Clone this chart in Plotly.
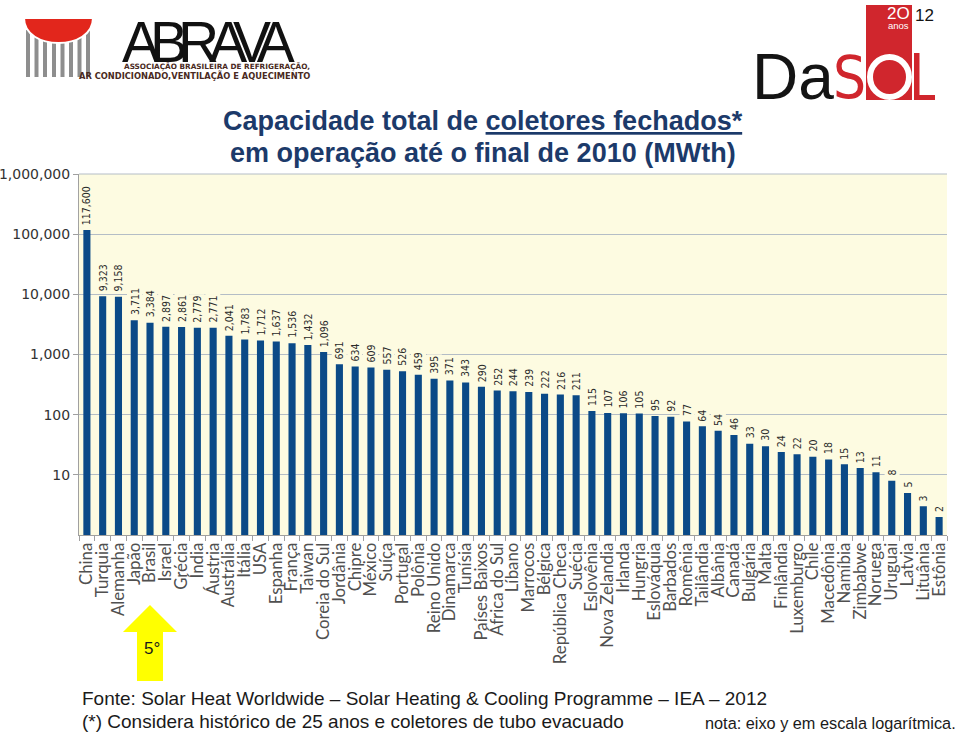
import numpy as np
import plotly.graph_objects as go

# ---------------- data ----------------
countries = [
    "China", "Turquia", "Alemanha", "Japão", "Brasil", "Israel", "Grécia", "Índia",
    "Áustria", "Austrália", "Itália", "USA", "Espanha", "França", "Taiwan",
    "Coreia do Sul", "Jordânia", "Chipre", "México", "Suíça", "Portugal", "Polônia",
    "Reino Unido", "Dinamarca", "Tunísia", "Países Baixos", "África do Sul", "Líbano",
    "Marrocos", "Bélgica", "República Checa", "Suécia", "Eslovênia", "Nova Zelandia",
    "Irlanda", "Hungria", "Eslováquia", "Barbados", "Romênia", "Tailândia", "Albânia",
    "Canadá", "Bulgária", "Malta", "Finlândia", "Luxemburgo", "Chile", "Macedônia",
    "Namíbia", "Zimbabwe", "Noruega", "Uruguai", "Latvia", "Lituânia", "Estônia",
]
capacity_mwth = [
    117600, 9323, 9158, 3711, 3384, 2897, 2861, 2779,
    2771, 2041, 1783, 1712, 1637, 1536, 1432,
    1096, 691, 634, 609, 557, 526, 459,
    395, 371, 343, 290, 252, 244,
    239, 222, 216, 211, 115, 107,
    106, 105, 95, 92, 77, 64, 54,
    46, 33, 30, 24, 22, 20, 18,
    15, 13, 11, 8, 5, 3, 2,
]
y_tick_values = [10, 100, 1000, 10000, 100000, 1000000]
y_tick_labels = ["10", "100", "1,000", "10,000", "100,000", "1,000,000"]

title_line1 = "Capacidade total de <u>coletores fechados*</u>"
title_line2 = "em operação até o final de 2010 (MWth)"
source_text = "Fonte: Solar Heat Worldwide – Solar Heating & Cooling Programme – IEA – 2012"
note_text = "(*) Considera histórico de 25 anos e coletores de tubo evacuado"
log_note = "nota: eixo y em escala logarítmica."
rank_text = "5°"

# ---------------- layout helpers ----------------
W, H = 959, 735
ML, MR, MT, MB = 79, 12, 174, 200
PW = W - ML - MR
PH = H - MT - MB

def px(x):
    return (x - ML) / PW

def py(y):
    return (H - MB - y) / PH

def path(points, close=True):
    s = "M " + " L ".join(f"{px(x):.5f},{py(y):.5f}" for x, y in points)
    return s + (" Z" if close else "")

PLOT_BG = "#FDFBE1"
BAR_COLOR = "#0B4A87"
GRID = "#B4BDC6"
AXIS = "#A0A0A0"

fig = go.Figure()
fig.add_trace(go.Bar(
    x=countries, y=capacity_mwth, width=0.45,
    marker=dict(color=BAR_COLOR, line=dict(width=0)),
    hoverinfo="x+y",
))

annotations = []
# value labels above bars
for c, v in zip(countries, capacity_mwth):
    annotations.append(dict(
        x=c, y=np.log10(v), xref="x", yref="y",
        text=f"{v:,}", textangle=-90, showarrow=False,
        xanchor="center", yanchor="bottom", yshift=3,
        bgcolor=PLOT_BG, borderpad=1,
        font=dict(family="DejaVu Sans Condensed, DejaVu Sans", size=10.5, color="#2A2A2A"),
    ))

TITLE_COLOR = "#1C3A6A"
annotations += [
    dict(x=px(483), y=py(121), xref="paper", yref="paper", text=f"<b>{title_line1}</b>",
         showarrow=False, xanchor="center", yanchor="middle",
         font=dict(family="Liberation Sans", size=27, color=TITLE_COLOR)),
    dict(x=px(483), y=py(153), xref="paper", yref="paper", text=f"<b>{title_line2}</b>",
         showarrow=False, xanchor="center", yanchor="middle",
         font=dict(family="Liberation Sans", size=27, color=TITLE_COLOR)),
    dict(x=px(80), y=py(698), xref="paper", yref="paper", text=source_text,
         showarrow=False, xanchor="left", yanchor="middle",
         font=dict(family="Liberation Sans", size=19, color="#1A1A1A")),
    dict(x=px(80), y=py(721), xref="paper", yref="paper", text=note_text,
         showarrow=False, xanchor="left", yanchor="middle",
         font=dict(family="Liberation Sans", size=19, color="#1A1A1A")),
    dict(x=px(958), y=py(723), xref="paper", yref="paper", text=log_note,
         showarrow=False, xanchor="right", yanchor="middle",
         font=dict(family="Liberation Sans", size=16.3, color="#1A1A1A")),
    dict(x=px(152), y=py(648), xref="paper", yref="paper", text=rank_text,
         showarrow=False, xanchor="center", yanchor="middle",
         font=dict(family="Liberation Sans", size=17, color="#1A1A1A")),
    # ABRAVA logo texts
    dict(x=px(120), y=py(42), xref="paper", yref="paper",
         text='<span style="letter-spacing:-10px">ABRAVA</span>',
         showarrow=False, xanchor="left", yanchor="middle",
         font=dict(family="Liberation Sans", size=57, color="#111111")),
    dict(x=px(312), y=py(67), xref="paper", yref="paper",
         text="<b>ASSOCIAÇÃO BRASILEIRA DE REFRIGERAÇÃO,</b>",
         showarrow=False, xanchor="right", yanchor="middle",
         font=dict(family="DejaVu Sans", size=7.3, color="#4A2A22")),
    dict(x=px(312), y=py(76), xref="paper", yref="paper",
         text="<b>AR CONDICIONADO,VENTILAÇÃO E AQUECIMENTO</b>",
         showarrow=False, xanchor="right", yanchor="middle",
         font=dict(family="DejaVu Sans", size=8.3, color="#4A2A22")),
    # DASOL logo texts
    dict(x=px(836), y=py(77), xref="paper", yref="paper", text="Da",
         showarrow=False, xanchor="right", yanchor="middle",
         font=dict(family="Liberation Sans", size=64, color="#141414")),
    dict(x=px(849), y=py(78), xref="paper", yref="paper", text="S",
         showarrow=False, xanchor="center", yanchor="middle",
         font=dict(family="DejaVu Sans Condensed, DejaVu Sans", size=58, color="#D0262D")),
    dict(x=px(912), y=py(13), xref="paper", yref="paper", text="2O",
         showarrow=False, xanchor="right", yanchor="middle",
         font=dict(family="Liberation Sans", size=17, color="#FFFFFF")),
    dict(x=px(913), y=py(15), xref="paper", yref="paper", text="12",
         showarrow=False, xanchor="left", yanchor="middle",
         font=dict(family="Liberation Sans", size=17, color="#141414")),
    dict(x=px(898), y=py(26), xref="paper", yref="paper", text="anos",
         showarrow=False, xanchor="center", yanchor="middle",
         font=dict(family="Liberation Sans", size=9.5, color="#FFFFFF")),
]

shapes = []
# yellow arrow
shapes.append(dict(type="path", xref="paper", yref="paper",
                   path=path([(150, 605), (177, 632), (163, 632), (163, 681),
                              (137, 681), (137, 632), (123, 632)]),
                   fillcolor="#FFFF00", line=dict(width=0), layer="above"))
# ABRAVA stripes
for sx in [26, 34.5, 43, 52, 60.5, 69, 77.5, 86]:
    shapes.append(dict(type="rect", xref="paper", yref="paper",
                       x0=px(sx), x1=px(sx + 4), y0=py(77), y1=py(30),
                       fillcolor="#8E8E8E", line=dict(width=0)))
# ABRAVA red half ellipse
x0, x1, yt, depth = 24, 93, 18, 25
k = depth / 0.75
shapes.append(dict(type="path", xref="paper", yref="paper",
                   path=(f"M {px(x0):.5f},{py(yt):.5f} L {px(x1):.5f},{py(yt):.5f} "
                         f"C {px(x1):.5f},{py(yt + k):.5f} {px(x0):.5f},{py(yt + k):.5f} "
                         f"{px(x0):.5f},{py(yt):.5f} Z"),
                   fillcolor="#E2261C", line=dict(color="#FFFFFF", width=2)))
# DASOL red block
shapes.append(dict(type="rect", xref="paper", yref="paper",
                   x0=px(866), x1=px(912), y0=py(100), y1=py(5),
                   fillcolor="#D0262D", line=dict(width=0)))
# DASOL "O" ring
shapes.append(dict(type="circle", xref="paper", yref="paper",
                   x0=px(870), x1=px(909), y0=py(97), y1=py(57),
                   fillcolor="rgba(0,0,0,0)", line=dict(color="#FFFFFF", width=6)))
# DASOL "L"
shapes.append(dict(type="rect", xref="paper", yref="paper",
                   x0=px(914), x1=px(919.5), y0=py(100), y1=py(53),
                   fillcolor="#D0262D", line=dict(width=0)))
shapes.append(dict(type="rect", xref="paper", yref="paper",
                   x0=px(914), x1=px(935), y0=py(100), y1=py(95),
                   fillcolor="#D0262D", line=dict(width=0)))
# top border of plot area
shapes.append(dict(type="line", xref="paper", yref="paper",
                   x0=0, x1=1, y0=1, y1=1, line=dict(color=GRID, width=1), layer="below"))

fig.update_layout(
    width=W, height=H,
    margin=dict(l=ML, r=MR, t=MT, b=MB, autoexpand=False),
    paper_bgcolor="#FFFFFF", plot_bgcolor=PLOT_BG,
    showlegend=False,
    annotations=annotations, shapes=shapes,
    xaxis=dict(
        type="category", range=[-0.5, len(countries) - 0.5],
        tickmode="linear", tick0=0, dtick=1,
        tickangle=-90, tickson="boundaries", ticks="outside", ticklen=5,
        tickcolor=AXIS, showline=True, linecolor=AXIS, linewidth=1,
        showgrid=False,
        tickfont=dict(family="Lato", size=16.8, color="#505050"),
        fixedrange=True,
    ),
    yaxis=dict(
        type="log", range=[0, 6],
        tickvals=y_tick_values, ticktext=y_tick_labels,
        ticks="outside", ticklen=5, tickcolor=AXIS,
        showline=True, linecolor=AXIS, linewidth=1,
        showgrid=True, gridcolor=GRID, gridwidth=1,
        tickfont=dict(family="DejaVu Sans", size=14, color="#333333"),
        fixedrange=True,
    ),
)

fig.write_html("out.html", config={"displayModeBar": False})
